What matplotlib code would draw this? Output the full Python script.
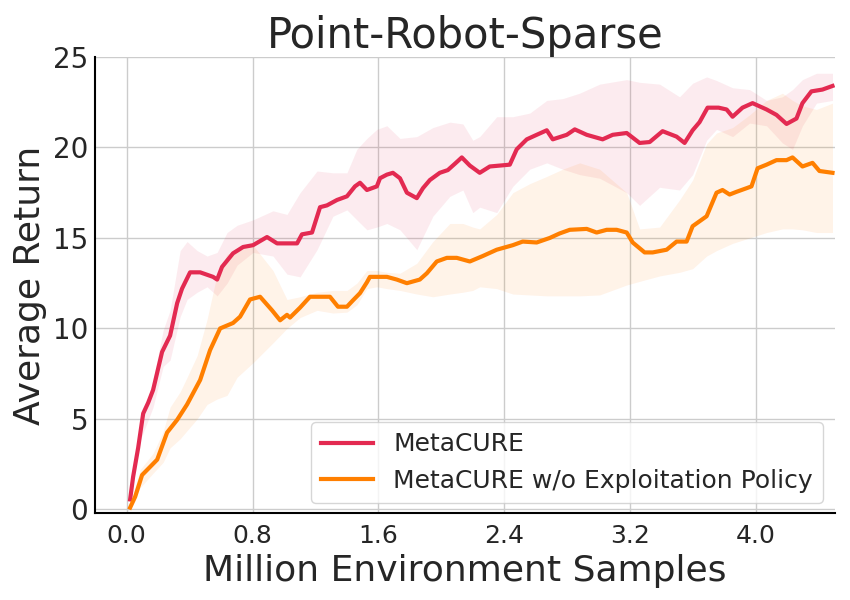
import matplotlib
matplotlib.use("Agg")
import matplotlib.pyplot as plt
import numpy as np

# ---- data ----
red_x = [0.022, 0.041, 0.073, 0.105, 0.137, 0.168, 0.225, 0.276, 0.321, 0.352, 0.403, 0.467,
         0.549, 0.575, 0.606, 0.676, 0.740, 0.803, 0.892, 0.956, 1.019, 1.083, 1.114, 1.178,
         1.229, 1.273, 1.337, 1.400, 1.451, 1.483, 1.527, 1.590, 1.610, 1.654, 1.692, 1.737,
         1.781, 1.844, 1.883, 1.927, 1.990, 2.041, 2.086, 2.130, 2.181, 2.244, 2.308, 2.435,
         2.479, 2.543, 2.606, 2.670, 2.708, 2.797, 2.848, 2.924, 3.025, 3.089, 3.178, 3.260,
         3.324, 3.406, 3.495, 3.546, 3.597, 3.641, 3.692, 3.762, 3.813, 3.851, 3.914, 3.978,
         4.067, 4.130, 4.194, 4.257, 4.295, 4.352, 4.422, 4.486]
red_y = [0.55, 1.8, 3.4, 5.3, 5.9, 6.6, 8.7, 9.6, 11.4, 12.2, 13.1, 13.1,
         12.85, 12.7, 13.4, 14.15, 14.5, 14.6, 15.05, 14.7, 14.7, 14.7, 15.2, 15.3,
         16.7, 16.8, 17.1, 17.3, 17.85, 18.05, 17.65, 17.85, 18.3, 18.5, 18.6, 18.3,
         17.5, 17.2, 17.75, 18.2, 18.6, 18.75, 19.1, 19.45, 19.0, 18.6, 18.95, 19.05,
         19.9, 20.45, 20.7, 20.95, 20.45, 20.7, 21.0, 20.7, 20.45, 20.7, 20.8, 20.25,
         20.3, 20.9, 20.6, 20.25, 20.95, 21.4, 22.2, 22.2, 22.1, 21.7, 22.2, 22.45,
         22.1, 21.8, 21.3, 21.6, 22.45, 23.1, 23.2, 23.4]

orange_x = [0.022, 0.054, 0.098, 0.149, 0.194, 0.257, 0.321, 0.384, 0.467, 0.530, 0.594, 0.676,
            0.721, 0.784, 0.848, 0.924, 0.975, 1.019, 1.038, 1.102, 1.165, 1.229, 1.292, 1.343,
            1.400, 1.438, 1.483, 1.527, 1.546, 1.654, 1.717, 1.781, 1.863, 1.908, 1.971, 2.035,
            2.098, 2.181, 2.263, 2.352, 2.454, 2.517, 2.606, 2.689, 2.752, 2.816, 2.924, 2.987,
            3.051, 3.114, 3.178, 3.216, 3.292, 3.343, 3.432, 3.495, 3.559, 3.597, 3.686, 3.749,
            3.787, 3.832, 3.876, 3.940, 3.971, 4.010, 4.067, 4.130, 4.194, 4.232, 4.295, 4.359,
            4.403, 4.486]
orange_y = [0.1, 0.7, 1.9, 2.35, 2.75, 4.25, 4.95, 5.8, 7.15, 8.8, 10.0, 10.3,
            10.65, 11.6, 11.75, 11.0, 10.45, 10.75, 10.6, 11.15, 11.75, 11.75, 11.75, 11.2,
            11.2, 11.55, 11.95, 12.55, 12.85, 12.85, 12.7, 12.5, 12.7, 13.05, 13.7, 13.9,
            13.9, 13.7, 14.0, 14.35, 14.6, 14.8, 14.75, 15.0, 15.25, 15.45, 15.5, 15.3,
            15.45, 15.45, 15.3, 14.75, 14.2, 14.2, 14.35, 14.8, 14.8, 15.65, 16.2, 17.5,
            17.65, 17.4, 17.55, 17.75, 17.85, 18.85, 19.05, 19.3, 19.3, 19.45, 18.95, 19.15,
            18.7, 18.6]

band_x = [0.022, 0.086, 0.168, 0.232, 0.276, 0.340, 0.384, 0.448, 0.511, 0.575, 0.638, 0.702,
          0.803, 0.930, 1.019, 1.102, 1.210, 1.311, 1.400, 1.463, 1.527, 1.590, 1.654, 1.737,
          1.844, 1.946, 2.054, 2.137, 2.200, 2.244, 2.352, 2.454, 2.562, 2.670, 2.771, 2.879,
          3.006, 3.178, 3.260, 3.387, 3.514, 3.597, 3.686, 3.749, 3.851, 3.959, 4.067, 4.168,
          4.232, 4.295, 4.384, 4.486]
red_lo = [0.5, 3.8, 5.65, 7.9, 8.25, 10.65, 11.6, 12.0, 12.3, 11.8, 12.5, 13.5,
          14.2, 14.0, 13.0, 12.85, 14.35, 16.2, 16.55, 16.0, 15.45, 15.6, 15.8, 15.45,
          14.35, 16.2, 17.3, 17.65, 16.4, 16.7, 16.4, 17.85, 18.8, 19.15, 18.8, 18.5,
          18.3, 17.5, 16.8, 17.8, 17.65, 18.5, 20.4, 21.0, 20.6, 21.35, 21.2, 20.25,
          19.9, 21.2, 22.45, 22.6]
red_hi = [0.6, 4.6, 7.15, 9.9, 11.0, 14.3, 14.8, 14.3, 14.0, 14.2, 15.3, 15.7,
          16.0, 16.5, 16.3, 17.5, 18.7, 18.6, 18.6, 19.9, 20.5, 21.0, 21.2, 20.5,
          20.6, 21.1, 21.4, 21.3, 20.4, 20.6, 21.7, 21.7, 21.9, 22.6, 22.7, 23.0,
          23.5, 23.75, 23.6, 23.5, 22.8, 23.55, 23.9, 23.7, 23.3, 23.2, 22.6, 22.8,
          23.2, 23.75, 24.1, 24.1]
orange_lo = [0.0, 1.2, 2.0, 2.6, 3.4, 3.9, 4.35, 5.0, 5.8, 6.1, 6.3, 7.3,
             8.1, 9.2, 10.0, 10.6, 11.0, 10.85, 10.9, 11.3, 12.2, 12.3, 12.2, 12.1,
             11.9, 11.75, 11.9, 12.0, 12.1, 12.3, 12.2, 11.9, 11.85, 11.8, 11.8, 11.8,
             11.85, 12.4, 12.6, 12.9, 13.1, 13.3, 14.0, 14.3, 14.7, 15.0, 15.3, 15.5,
             15.5, 15.45, 15.3, 15.3]
orange_hi = [0.3, 2.2, 3.1, 4.3, 5.65, 6.5, 7.3, 8.5, 10.5, 13.0, 14.1, 14.3,
             14.6, 13.2, 11.6, 11.75, 12.0, 12.1, 12.1, 12.5, 13.2, 13.2, 13.1, 13.05,
             13.6, 14.8, 15.8, 15.8, 15.6, 15.5, 16.3, 17.5, 18.0, 18.4, 18.8, 19.15,
             18.8, 17.5, 15.5, 15.6, 17.1, 18.2, 20.2, 20.8, 21.1, 21.8, 22.6, 23.0,
             22.6, 22.3, 22.1, 22.45]

labels = ["MetaCURE", "MetaCURE w/o Exploitation Policy"]
x_ticks = [0.0, 0.8, 1.6, 2.4, 3.2, 4.0]
y_ticks = [0, 5, 10, 15, 20, 25]

RED = "#e32a51"
ORANGE = "#ff7f00"
TXT = "#262626"

fig = plt.figure(figsize=(8.5, 6), dpi=100)
ax = fig.add_axes([0.112, 0.145, 0.870, 0.760])

ax.fill_between(band_x, red_lo, red_hi, color=RED, alpha=0.09, linewidth=0)
ax.fill_between(band_x, orange_lo, orange_hi, color=ORANGE, alpha=0.09, linewidth=0)
ax.plot(red_x, red_y, color=RED, lw=3, label=labels[0])
ax.plot(orange_x, orange_y, color=ORANGE, lw=3, label=labels[1])

ax.set_xlim(-0.2, 4.5)
ax.set_ylim(-0.2, 25)
ax.set_xticks(x_ticks)
ax.set_xticklabels([f"{v:.1f}" for v in x_ticks])
ax.set_yticks(y_ticks)
ax.grid(True, color="#cccccc", linewidth=1)
ax.set_axisbelow(True)
for s in ["top", "right"]:
    ax.spines[s].set_visible(False)
for s in ["left", "bottom"]:
    ax.spines[s].set_color("black")
    ax.spines[s].set_linewidth(1.5)
ax.tick_params(axis="both", length=0, labelcolor=TXT)
ax.tick_params(axis="x", pad=8, labelsize=18)
ax.tick_params(axis="y", pad=5, labelsize=20)

ax.set_title("Point-Robot-Sparse", fontsize=30, color=TXT, pad=6)
ax.set_xlabel("Million Environment Samples", fontsize=26, color=TXT, labelpad=4)
ax.set_ylabel("Average Return", fontsize=26, color=TXT, labelpad=4)

leg = ax.legend(loc="lower right", bbox_to_anchor=(0.984, 0.022), fontsize=18,
                frameon=True, handlelength=2.1, borderaxespad=0.0, fancybox=True)
leg.get_frame().set_edgecolor("#cccccc")
leg.get_frame().set_linewidth(1)
for t in leg.get_texts():
    t.set_color(TXT)

fig.savefig("out.png", dpi=100)
